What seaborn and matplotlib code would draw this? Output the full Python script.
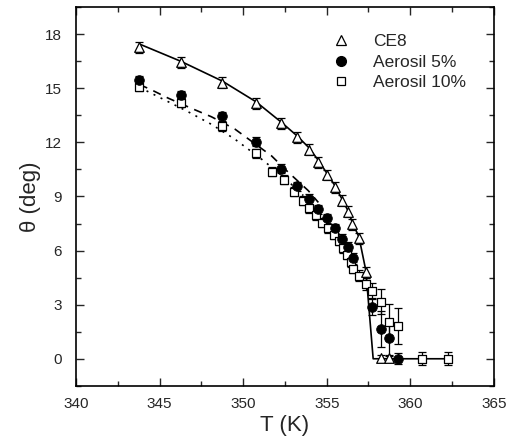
import matplotlib
matplotlib.use("Agg")
import matplotlib.pyplot as plt
from matplotlib.lines import Line2D
from matplotlib.ticker import MultipleLocator
import seaborn as sns
import pandas as pd

# ---------------- data ----------------
ce8_T = [343.77, 346.26, 348.75, 350.77, 352.24, 353.24, 353.94, 354.50, 354.99,
         355.49, 355.89, 356.25, 356.52, 356.93, 357.34, 358.22, 358.72]
ce8_theta = [17.27, 16.43, 15.31, 14.16, 13.05, 12.27, 11.59, 10.89, 10.19,
             9.51, 8.77, 8.16, 7.45, 6.68, 4.80, 0.02, 0.02]
ce8_err = [0.3] * 15 + [0.2, 0.2]

a5_T = [343.77, 346.26, 348.75, 350.77, 352.24, 353.20, 353.93, 354.50, 355.02,
        355.51, 355.93, 356.27, 356.55, 357.69, 358.22, 358.72, 359.28]
a5_theta = [15.45, 14.62, 13.45, 12.03, 10.55, 9.56, 8.86, 8.29, 7.79,
            7.25, 6.66, 6.20, 5.60, 2.86, 1.64, 1.15, 0.0]
a5_err = [0.25] * 13 + [0.45, 1.0, 1.0, 0.3]

a10_T = [343.77, 346.26, 348.75, 350.77, 351.72, 352.42, 353.06, 353.56, 353.94,
         354.34, 354.74, 355.09, 355.45, 355.75, 355.95, 356.19, 356.45, 356.60,
         356.93, 357.34, 357.72, 358.24, 358.73, 359.25, 360.71, 362.23]
a10_theta = [15.08, 14.21, 12.89, 11.40, 10.38, 9.94, 9.26, 8.75, 8.34,
             7.95, 7.55, 7.25, 6.88, 6.55, 6.13, 5.76, 5.35, 4.98,
             4.60, 4.15, 3.78, 3.17, 2.03, 1.84, 0.0, 0.0]
a10_err = [0.25] * 18 + [0.3, 0.35, 0.4, 0.7, 1.0, 1.0, 0.35, 0.35]

# fit curves
fit_ce8_T = [343.80, 346.26, 348.75, 350.77, 352.24, 353.24, 353.94, 354.50, 355.00,
             355.49, 355.89, 356.25, 356.52, 356.93, 357.34, 357.78, 362.23]
fit_ce8_theta = [17.45, 16.50, 15.40, 14.25, 13.15, 12.35, 11.70, 11.00, 10.30,
                 9.60, 8.90, 8.25, 7.60, 6.75, 4.90, 0.0, 0.0]

fit_a5_T = [343.80, 344.43, 345.52, 347.00, 348.10, 349.50, 351.70, 352.60, 353.90, 354.50]
fit_a5_theta = [15.20, 14.95, 14.45, 13.85, 13.42, 12.74, 11.25, 10.43, 9.32, 8.67]

fit_a10_T = [343.80, 345.20, 346.60, 348.10, 349.50, 351.10, 352.40, 353.60]
fit_a10_theta = [15.05, 14.40, 13.75, 13.00, 12.18, 11.07, 10.10, 9.05]

labels = ["CE8", "Aerosil 5%", "Aerosil 10%"]
x_ticks = [340, 345, 350, 355, 360, 365]
y_ticks = [0, 3, 6, 9, 12, 15, 18]

# ---------------- style ----------------
sns.set_style("ticks")
plt.rcParams["font.family"] = ["Liberation Sans", "DejaVu Sans"]
plt.rcParams["xtick.direction"] = "in"
plt.rcParams["ytick.direction"] = "in"

fig = plt.figure(figsize=(5.07, 4.45), dpi=100)
ax = fig.add_axes([0.150, 0.133, 0.824, 0.851])

# fit lines
sns.lineplot(x=fit_ce8_T, y=fit_ce8_theta, ax=ax, color="black", lw=1.2,
             sort=False, estimator=None)
sns.lineplot(x=fit_a5_T, y=fit_a5_theta, ax=ax, color="black", lw=1.2,
             sort=False, estimator=None)
ax.lines[-1].set_dashes([5, 4])
sns.lineplot(x=fit_a10_T, y=fit_a10_theta, ax=ax, color="black", lw=1.2,
             sort=False, estimator=None)
ax.lines[-1].set_dashes([1.2, 3.5])

# error bars
for T, th, er in [(ce8_T, ce8_theta, ce8_err), (a5_T, a5_theta, a5_err),
                  (a10_T, a10_theta, a10_err)]:
    ax.errorbar(T, th, yerr=er, fmt="none", ecolor="black", elinewidth=0.9,
                capsize=3, capthick=0.9, zorder=3)

# markers
df10 = pd.DataFrame({"T": a10_T, "theta": a10_theta})
df5 = pd.DataFrame({"T": a5_T, "theta": a5_theta})
dfce = pd.DataFrame({"T": ce8_T, "theta": ce8_theta})
sns.scatterplot(data=df10, x="T", y="theta", ax=ax, marker="s", s=34,
                facecolor="white", edgecolor="black", linewidth=0.9, zorder=4)
sns.scatterplot(data=df5, x="T", y="theta", ax=ax, marker="o", s=48,
                color="black", edgecolor="black", linewidth=0.6, zorder=5)
sns.scatterplot(data=dfce, x="T", y="theta", ax=ax, marker="^", s=48,
                facecolor="white", edgecolor="black", linewidth=0.9, zorder=6)

ax.set_xlim(340, 365)
ax.set_ylim(-1.5, 19.5)
ax.set_xticks(x_ticks)
ax.set_yticks(y_ticks)
ax.xaxis.set_minor_locator(MultipleLocator(2.5))
ax.yaxis.set_minor_locator(MultipleLocator(1.5))
ax.tick_params(which="both", top=True, right=True, direction="in", width=1.0,
               labelsize=11)
ax.tick_params(which="major", length=6)
ax.tick_params(which="minor", length=3.5)
ax.tick_params(axis="x", which="major", pad=8)
ax.tick_params(axis="y", which="major", pad=10)
for sp in ax.spines.values():
    sp.set_linewidth(1.2)
    sp.set_color("black")

ax.set_xlabel("T (K)", fontsize=16, labelpad=3)
ax.set_ylabel("θ (deg)", fontsize=16, labelpad=3)

handles = [
    Line2D([], [], ls="none", marker="^", ms=7, mfc="white", mec="black", mew=0.9),
    Line2D([], [], ls="none", marker="o", ms=7, mfc="black", mec="black"),
    Line2D([], [], ls="none", marker="s", ms=6, mfc="white", mec="black", mew=0.9),
]
ax.legend(handles, labels, loc="upper right", frameon=False, fontsize=12.5,
          bbox_to_anchor=(0.97, 0.97), handletextpad=1.1, labelspacing=0.3,
          handlelength=1.5)

fig.savefig("out.png", dpi=100)
